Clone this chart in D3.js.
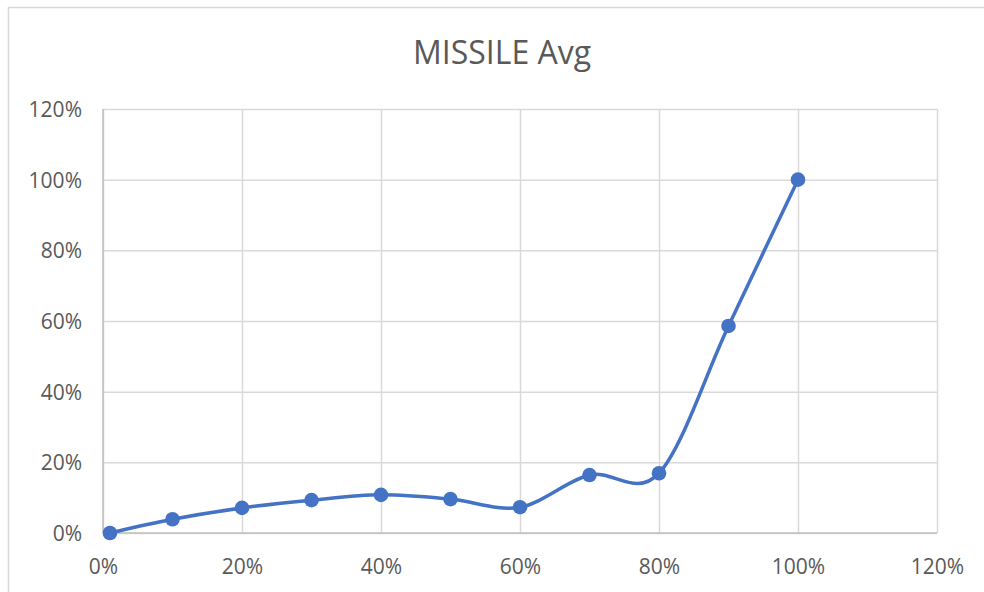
<!DOCTYPE html>
<html>
<head>
<meta charset="utf-8">
<script src="https://cdn.jsdelivr.net/npm/d3@7"></script>
<style>
  html, body { margin: 0; padding: 0; background: #ffffff; }
  svg { display: block; }
</style>
</head>
<body>
<svg id="chart" width="984" height="592"></svg>
<script>
// ---- data ----
const title = "MISSILE Avg";
const xValues = [0.01, 0.10, 0.20, 0.30, 0.40, 0.50, 0.60, 0.70, 0.80, 0.90, 1.00];
const yValues = [0.000, 0.039, 0.071, 0.093, 0.108, 0.096, 0.073, 0.164, 0.169, 0.586, 1.000];
const xTicks = [0, 0.2, 0.4, 0.6, 0.8, 1.0, 1.2];
const yTicks = [0, 0.2, 0.4, 0.6, 0.8, 1.0, 1.2];

const svg = d3.select("#chart");
const W = 984, H = 592;
const plot = { left: 103, right: 937, top: 109, bottom: 533 };

// chart area border
svg.append("rect")
  .attr("x", 8.5).attr("y", 7.5)
  .attr("width", W + 20).attr("height", H + 20)
  .attr("fill", "#ffffff")
  .attr("stroke", "#d9d9d9").attr("stroke-width", 1.5);

const x = d3.scaleLinear().domain([0, 1.2]).range([plot.left, plot.right]);
const y = d3.scaleLinear().domain([0, 1.2]).range([plot.bottom, plot.top]);
const fmt = d3.format(".0%");
const font = "'Open Sans', 'Segoe UI', sans-serif";

// gridlines
const gx = svg.append("g").attr("transform", `translate(0,${plot.bottom})`)
  .call(d3.axisBottom(x).tickValues(xTicks).tickSize(-(plot.bottom - plot.top)).tickFormat(""));
gx.select(".domain").remove();
gx.selectAll("line").attr("stroke", "#d9d9d9").attr("stroke-width", 1.5);

const gy = svg.append("g").attr("transform", `translate(${plot.left},0)`)
  .call(d3.axisLeft(y).tickValues(yTicks).tickSize(-(plot.right - plot.left)).tickFormat(""));
gy.select(".domain").remove();
gy.selectAll("line").attr("stroke", "#d9d9d9").attr("stroke-width", 1.5);

// axis lines
svg.append("line")
  .attr("x1", x(0)).attr("x2", x(1.2)).attr("y1", y(0)).attr("y2", y(0))
  .attr("stroke", "#bfbfbf").attr("stroke-width", 1.5);
svg.append("line")
  .attr("x1", x(0)).attr("x2", x(0)).attr("y1", y(0)).attr("y2", y(1.2))
  .attr("stroke", "#bfbfbf").attr("stroke-width", 1.5);

// tick labels
const xAxis = svg.append("g").attr("transform", `translate(0,${plot.bottom})`)
  .call(d3.axisBottom(x).tickValues(xTicks).tickSize(0).tickPadding(0).tickFormat(fmt));
xAxis.select(".domain").remove();
xAxis.selectAll("text")
  .attr("y", 41).attr("dy", null)
  .attr("font-family", font).attr("font-size", 21).attr("fill", "#595959");

const yAxis = svg.append("g").attr("transform", `translate(${plot.left},0)`)
  .call(d3.axisLeft(y).tickValues(yTicks).tickSize(0).tickPadding(0).tickFormat(fmt));
yAxis.select(".domain").remove();
yAxis.selectAll("text")
  .attr("x", -21).attr("dy", "0.35em")
  .attr("font-family", font).attr("font-size", 21).attr("fill", "#595959");

// line
const pts = xValues.map((v, i) => [v, yValues[i]]);
const line = d3.line()
  .x(d => x(d[0])).y(d => y(d[1]))
  .curve(d3.curveCardinal.tension(0));
svg.append("path")
  .datum(pts)
  .attr("d", line)
  .attr("fill", "none")
  .attr("stroke", "#4472c4")
  .attr("stroke-width", 3.5)
  .attr("stroke-linejoin", "round")
  .attr("stroke-linecap", "round");

// markers
svg.append("g").selectAll("circle")
  .data(pts).join("circle")
  .attr("cx", d => x(d[0])).attr("cy", d => y(d[1]))
  .attr("r", 7.3)
  .attr("fill", "#4472c4");

// title
svg.append("text")
  .attr("x", 502).attr("y", 64)
  .attr("text-anchor", "middle")
  .attr("font-family", font).attr("font-size", 32)
  .attr("fill", "#595959")
  .text(title);
</script>
</body>
</html>
